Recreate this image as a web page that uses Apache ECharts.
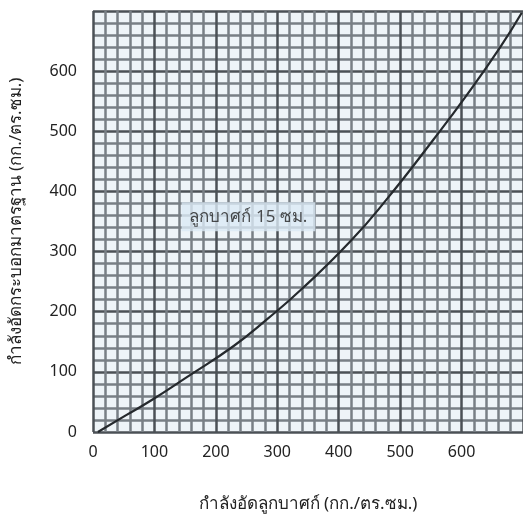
<!DOCTYPE html>
<html>
<head>
<meta charset="utf-8">
<script src="https://cdn.jsdelivr.net/npm/echarts@6/dist/echarts.min.js"></script>
<style>
  html, body { margin: 0; padding: 0; background: #fff; }
  #charts { width: 523px; height: 518px; }
</style>
</head>
<body>
<div id="charts"></div>
<script>
// ข้อมูลเส้นโค้ง (อ่านจากภาพ)
var cubeStrength = [8, 54, 97, 151, 229, 284, 338, 419, 479, 554, 609, 663, 698];
var cylStrength  = [0, 28, 54, 90, 143, 188, 236, 317, 388, 486, 561, 640, 697];
var tickValues = [0, 100, 200, 300, 400, 500, 600];
var noteText = 'ลูกบาศก์ 15 ซม.';
var notePos = [253, 358];

var font = "'Noto Sans', 'DejaVu Sans', sans-serif";
var curve = cubeStrength.map(function (x, i) { return [x, cylStrength[i]]; });

var myChart = echarts.init(document.getElementById('charts'));

function axisCommon() {
  return {
    type: 'value',
    min: 0,
    max: 700,
    interval: 100,
    axisLine: { show: false },
    axisTick: { show: false },
    minorTick: { show: false, splitNumber: 5 },
    splitLine: { show: true, lineStyle: { color: '#4b5156', width: 2.5 } },
    minorSplitLine: { show: true, lineStyle: { color: '#787f85', width: 2.5 } },
    nameLocation: 'middle',
    nameTextStyle: { fontFamily: font, fontSize: 17, color: '#222' }
  };
}

var xAx = axisCommon();
xAx.name = 'กำลังอัดลูกบาศก์ (กก./ตร.ซม.)';
xAx.nameGap = 64;
xAx.axisLabel = {
  margin: 12, fontFamily: font, fontSize: 16, color: '#222',
  customValues: tickValues
};

var yAx = axisCommon();
yAx.name = 'กำลังอัดกระบอกมาตรฐาน (กก./ตร.ซม.)';
yAx.nameGap = 68;
yAx.axisLabel = {
  margin: 16, fontFamily: font, fontSize: 16, color: '#222',
  customValues: tickValues
};

var option = {
  backgroundColor: '#fff',
  animation: false,
  grid: {
    left: 92, top: 11, right: 0, bottom: 81,
    show: true, backgroundColor: '#eef4f8', borderWidth: 0
  },
  xAxis: xAx,
  yAxis: yAx,
  series: [
    {
      type: 'line',
      data: curve,
      smooth: 0.5,
      symbol: 'none',
      lineStyle: { color: '#25292d', width: 2.2 },
      z: 5
    },
    {
      type: 'scatter',
      data: [notePos],
      symbolSize: 0,
      label: {
        show: true,
        position: 'inside',
        formatter: noteText,
        fontFamily: font,
        fontSize: 17,
        color: '#222',
        backgroundColor: '#dbeaf5',
        padding: [6, 8]
      },
      z: 6
    }
  ]
};

myChart.setOption(option);
</script>
</body>
</html>
